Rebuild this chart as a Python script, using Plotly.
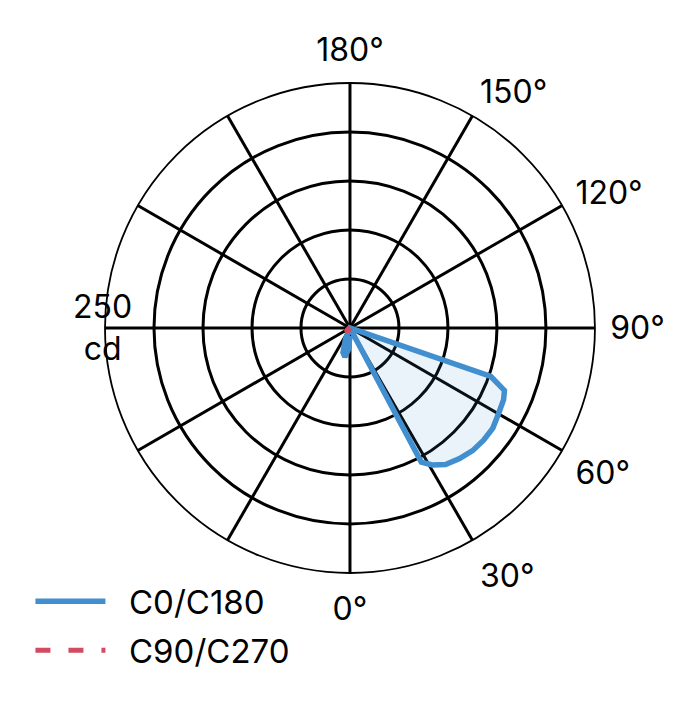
import plotly.graph_objects as go

# Lichtstärkeverteilung (cd) über Gamma-Winkel, C0/C180 Ebene
c0_theta = [0, 20, 25, 28, 31, 35, 40, 45, 50, 55, 60, 65, 68, 71, 75, 180, 330, 338, 344, 350, 356, 360]
c0_cd = [0, 0, 0, 155, 163, 170, 174, 177, 178, 178, 175, 173, 170, 152, 0, 0, 0, 12, 26, 30, 22, 8]

# C90/C270 Ebene (fast null)
c90_theta = [270, 285, 300, 310, 320, 330, 345, 360]
c90_cd = [0, 1, 3, 4, 4, 3, 1, 0]

tick_vals = [0, 30, 60, 90, 120, 150, 180, 210, 240, 270, 300, 330]
tick_text = ["0°", "30°", "60°", "90°", "120°", "150°", "180°", "", "", "", "", ""]
radial_ticks = [50, 100, 150, 200, 250]
r_max = 250

blue = "#428fd0"
red = "#d24b61"
font_name = "Inter"
fs = 32
pad = "\u00a0\u00a0"

fig = go.Figure()

# Fläche ohne Legende
fig.add_trace(go.Scatterpolar(
    r=c0_cd, theta=c0_theta, mode="none", fill="toself",
    fillcolor="rgba(66,143,208,0.11)", showlegend=False, hoverinfo="skip",
))
fig.add_trace(go.Scatterpolar(
    r=c0_cd, theta=c0_theta, mode="lines", name=pad + "C0/C180",
    line=dict(color=blue, width=5.5), legend="legend",
))
fig.add_trace(go.Scatterpolar(
    r=c90_cd, theta=c90_theta, mode="lines", name=pad + "C90/C270",
    line=dict(color=red, width=5, dash="15px,18px,15px,18px,5px,18px"),
    legend="legend2",
))

fig.update_layout(
    width=680, height=720,
    margin=dict(l=0, r=0, t=0, b=0),
    paper_bgcolor="white",
    font=dict(family=font_name, size=fs, color="black"),
    polar=dict(
        domain=dict(x=[0.1426, 0.8632], y=[0.2153, 0.8958]),
        bgcolor="white",
        radialaxis=dict(
            range=[0, r_max], tickvals=radial_ticks, showticklabels=False,
            ticks="", showline=False, gridcolor="black", gridwidth=2.7,
        ),
        angularaxis=dict(
            rotation=270, direction="counterclockwise",
            tickvals=tick_vals, ticktext=tick_text,
            ticks="outside", ticklen=8, tickcolor="rgba(0,0,0,0)",
            showline=True, linecolor="black", linewidth=1.8,
            gridcolor="black", gridwidth=2.7,
        ),
    ),
    legend=dict(x=0.033, y=0.176, xanchor="left", yanchor="middle",
                itemwidth=70, font=dict(size=33), bgcolor="rgba(0,0,0,0)"),
    legend2=dict(x=0.033, y=0.108, xanchor="left", yanchor="middle",
                 itemwidth=70, font=dict(size=33), bgcolor="rgba(0,0,0,0)"),
    showlegend=True,
)

# Skalenwert am linken Rand
fig.add_annotation(
    text="250<br>cd", x=0.1397, y=0.556, xref="paper", yref="paper",
    xanchor="center", yanchor="middle", align="center", showarrow=False,
    font=dict(size=fs),
)

fig.write_html("out.html")
